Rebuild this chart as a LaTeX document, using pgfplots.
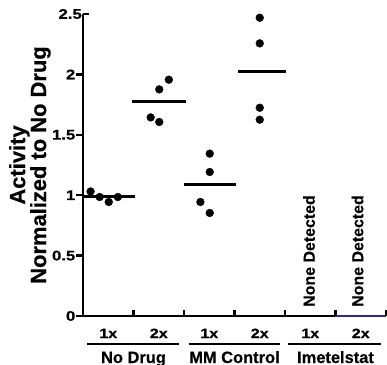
\documentclass[border=0pt]{standalone}
\usepackage{fontspec}
\setmainfont{Liberation Sans}[BoldFeatures={FakeBold=0.4}]
\newfontfamily\widefont{Liberation Sans}[FakeStretch=1.2, BoldFeatures={FakeBold=0.4}]
\usepackage{pgfplots}
\pgfplotsset{compat=1.18}
\definecolor{navy}{RGB}{45,45,120}
\newcommand\tl{\widefont\bfseries\fontsize{14}{14}\selectfont}
\tikzset{xl/.style={anchor=base, inner sep=0pt, font=\widefont\bfseries\fontsize{13.5}{13.5}\selectfont},
  gl/.style={anchor=base, inner sep=0pt, font=\bfseries\fontsize{16.5}{16.5}\selectfont},
  nd/.style={rotate=90, anchor=base west, inner sep=0pt, font=\bfseries\fontsize{16}{16}\selectfont}}
\begin{document}
\begin{tikzpicture}
\useasboundingbox (-83bp,-49bp) rectangle (304bp,316bp);
\begin{axis}[
  at={(0,0)}, anchor=south west,
  scale only axis, width=303bp, height=302bp,
  xmin=-0.5, xmax=5.5, ymin=0, ymax=2.5,
  axis x line*=bottom, axis y line*=left,
  axis line style={line width=2.8bp, black},
  clip=false,
  xtick=\empty,
  ytick={0,0.5,1,1.5,2},
  yticklabels={{\tl 0},{\tl 0.5},{\tl 1},{\tl 1.5},{\tl 2}},
  extra y ticks={2.5},
  extra y tick labels={{\tl 2.5}},
  extra y tick style={tick align=inside},
  yticklabel style={inner sep=0pt, xshift=-1bp},
  tick align=outside, major tick length=6.5bp,
  ytick style={line width=2.4bp, black},
  ylabel={Activity\\Normalized to No Drug},
  ylabel style={font=\bfseries\fontsize{22}{21}\selectfont, align=center, inner sep=0pt,
    at={(axis description cs:-0.106,0.5)}, anchor=south},
]
% individual points
\addplot[only marks, mark=*, mark size=3.9bp, black] coordinates {
  (-0.35,1.031) (-0.17,0.985) (0.01,0.944) (0.19,0.985)
  (0.84,1.644) (1.01,1.606) (1.01,1.876) (1.2,1.956)
  (2.01,1.344) (2.01,1.192) (1.825,0.944) (2.01,0.853)
  (3.0,2.469) (3.0,2.257) (3.0,1.724) (3.0,1.625)
};
% mean lines
\addplot[line width=2.6bp, black, no marks] coordinates {(-0.5,0.99) (0.52,0.99)};
\addplot[line width=2.6bp, black, no marks] coordinates {(0.47,1.774) (1.53,1.774)};
\addplot[line width=2.6bp, black, no marks] coordinates {(1.5,1.087) (2.52,1.087)};
\addplot[line width=2.6bp, black, no marks] coordinates {(2.56,2.022) (3.52,2.022)};
\addplot[line width=2.6bp, navy, no marks] coordinates {(4.5,0) (5.5,0)};
% category boundary ticks (inside)
\draw[line width=2.2bp] (axis cs:0.5,0) -- ([yshift=6bp]axis cs:0.5,0);
\draw[line width=2.2bp] (axis cs:1.5,0) -- ([yshift=6bp]axis cs:1.5,0);
\draw[line width=2.2bp] (axis cs:2.5,0) -- ([yshift=6bp]axis cs:2.5,0);
\draw[line width=2.2bp] (axis cs:3.5,0) -- ([yshift=6bp]axis cs:3.5,0);
\draw[line width=2.2bp] (axis cs:4.5,0) -- ([yshift=6bp]axis cs:4.5,0);
\draw[line width=2.2bp] (axis cs:5.5,0) -- ([yshift=6bp]axis cs:5.5,0);
% x category labels
\node[xl] at ([yshift=-22bp]axis cs:0,0) {1x};
\node[xl] at ([yshift=-22bp]axis cs:1,0) {2x};
\node[xl] at ([yshift=-22bp]axis cs:2,0) {1x};
\node[xl] at ([yshift=-22bp]axis cs:3,0) {2x};
\node[xl] at ([yshift=-22bp]axis cs:4,0) {1x};
\node[xl] at ([yshift=-22bp]axis cs:5,0) {2x};
% group lines and labels
\draw[line width=2.4bp] ([yshift=-28bp]axis cs:-0.42,0) -- ([yshift=-28bp]axis cs:1.41,0);
\draw[line width=2.4bp] ([yshift=-28bp]axis cs:1.59,0) -- ([yshift=-28bp]axis cs:3.41,0);
\draw[line width=2.4bp] ([yshift=-28bp]axis cs:3.56,0) -- ([yshift=-28bp]axis cs:5.4,0);
\node[gl] at ([yshift=-47bp]axis cs:0.5,0) {No Drug};
\node[gl] at ([yshift=-47bp]axis cs:2.5,0) {MM Control};
\node[gl] at ([yshift=-47bp]axis cs:4.5,0) {Imetelstat};
% none detected
\node[nd] at ([xshift=4.5bp,yshift=9bp]axis cs:4,0) {None Detected};
\node[nd] at ([xshift=2.5bp,yshift=9bp]axis cs:5,0) {None Detected};
\end{axis}
\end{tikzpicture}
\end{document}
